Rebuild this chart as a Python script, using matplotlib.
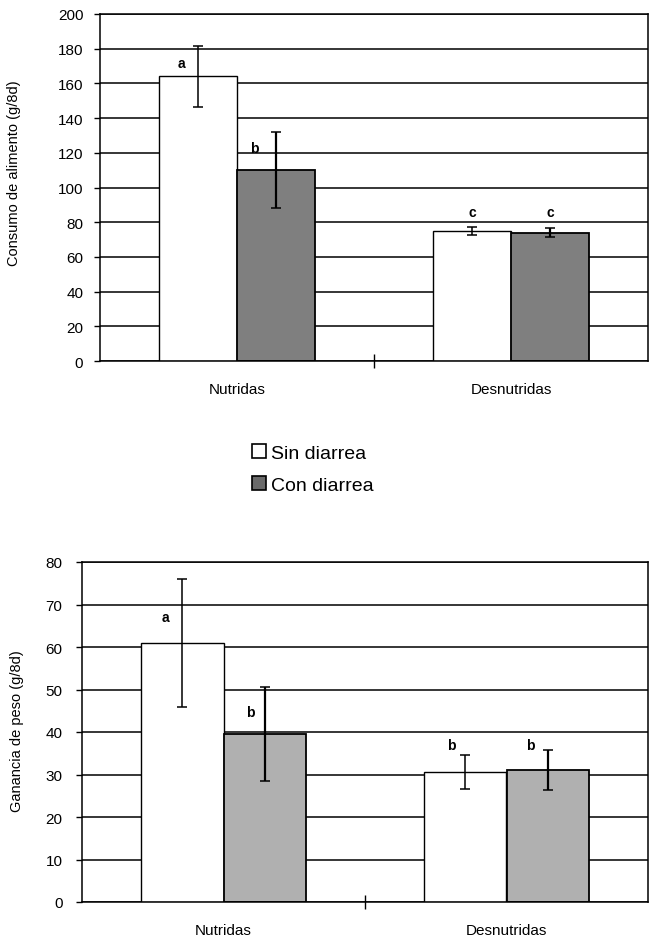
import matplotlib
matplotlib.use("Agg")
import matplotlib.pyplot as plt
from matplotlib.patches import Patch
import numpy as np

plt.rcParams['font.family'] = ['Liberation Sans', 'DejaVu Sans']

# data
grupos = ["Nutridas", "Desnutridas"]
series = ["Sin diarrea", "Con diarrea"]

consumo_sin = [164, 75]
consumo_con = [110, 74]
consumo_err_sin = [17.5, 2.5]
consumo_err_con = [22, 2.5]
consumo_letras_sin = ["a", "c"]
consumo_letras_con = ["b", "c"]
consumo_letras_y_sin = [172, 86]
consumo_letras_y_con = [123, 86]

ganancia_sin = [61, 30.5]
ganancia_con = [39.5, 31]
ganancia_err_sin = [15, 4]
ganancia_err_con = [11, 4.7]
ganancia_letras = ["a", "b"]
ganancia_letras_con = ["b", "b"]
ganancia_letras_y_sin = [67, 37]
ganancia_letras_y_con = [44.6, 37]

W, H = 652, 945
fig = plt.figure(figsize=(W / 100, H / 100), dpi=100)


def panel(rect, sin, con, esin, econ, lsin, lcon, ysin, ycon, ymax, ystep,
          ylabel, ylab_xy, gray, w, ypad, lab_dx):
    ax = fig.add_axes(rect)
    x = np.arange(len(grupos))
    ax.set_axisbelow(True)
    ax.bar(x - w / 2, sin, w, color="white", edgecolor="black", linewidth=1.0, zorder=2)
    ax.bar(x + w / 2, con, w, color=gray, edgecolor="black", linewidth=1.3, zorder=2)
    ax.errorbar(x - w / 2, sin, yerr=esin, fmt="none", ecolor="black",
                elinewidth=1.1, capsize=3.5, capthick=1.1, zorder=3)
    ax.errorbar(x + w / 2, con, yerr=econ, fmt="none", ecolor="black",
                elinewidth=1.6, capsize=3.5, capthick=1.1, zorder=3)
    for i in range(len(grupos)):
        ax.text(x[i] - w / 2 + lab_dx[0][i], ysin[i], lsin[i], ha="center", va="center",
                fontsize=10, fontweight="bold", zorder=4)
        ax.text(x[i] + w / 2 + lab_dx[1][i], ycon[i], lcon[i], ha="center", va="center",
                fontsize=10, fontweight="bold", zorder=4)
    ax.set_xlim(-0.5, 1.5)
    ax.set_ylim(0, ymax)
    ax.set_yticks(np.arange(0, ymax + 1, ystep))
    ax.yaxis.grid(True, color="black", linewidth=1.1)
    ax.set_xticks(x)
    ax.set_xticklabels(grupos, fontsize=11)
    ax.tick_params(axis="x", length=0, pad=15)
    ax.set_xticks([0.5], minor=True)
    ax.tick_params(axis="x", which="minor", length=10, direction="inout", width=1)
    ax.tick_params(axis="y", length=4, width=1, labelsize=11, direction="out", pad=ypad)
    ax.set_ylabel(ylabel, fontsize=10.5)
    ax.yaxis.set_label_coords(*ylab_xy)
    for s in ax.spines.values():
        s.set_linewidth(1.1)
        s.set_color("black")
    return ax


panel([100 / W, 1 - 362 / H, 548 / W, 347 / H],
      consumo_sin, consumo_con, consumo_err_sin, consumo_err_con,
      consumo_letras_sin, consumo_letras_con, consumo_letras_y_sin, consumo_letras_y_con,
      200, 20, "Consumo de alimento (g/8d)", (-0.144, 0.545), "#7f7f7f", 0.285, 8,
      [[-0.06, 0], [-0.08, 0]])

panel([82 / W, 1 - 903 / H, 566 / W, 340 / H],
      ganancia_sin, ganancia_con, ganancia_err_sin, ganancia_err_con,
      ganancia_letras, ganancia_letras_con, ganancia_letras_y_sin, ganancia_letras_y_con,
      80, 10, "Ganancia de peso (g/8d)", (-0.1025, 0.506), "#b0b0b0", 0.29, 10,
      [[-0.06, -0.05], [-0.05, -0.06]])

handles = [Patch(facecolor="white", edgecolor="black", linewidth=1.2),
           Patch(facecolor="#6a6a6a", edgecolor="black", linewidth=1.2)]
fig.legend(handles, series, loc="center", bbox_to_anchor=(313 / W, 1 - 470 / H),
           frameon=False, fontsize=14, handlelength=0.7, handleheight=0.7,
           handletextpad=0.3, labelspacing=0.75)

fig.savefig("out.png", dpi=100, facecolor="white")
